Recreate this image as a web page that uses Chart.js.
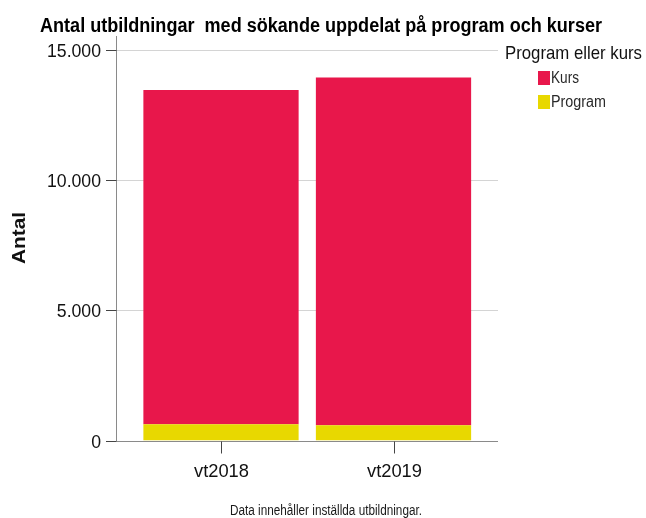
<!DOCTYPE html>
<html>
<head>
<meta charset="utf-8">
<script src="https://cdn.jsdelivr.net/npm/chart.js@4/dist/chart.umd.min.js"></script>
<style>
  html, body { margin: 0; padding: 0; background: #fff; }
  #wrap { position: relative; width: 646px; height: 518px; }
</style>
</head>
<body>
<div id="wrap"><canvas id="chart" width="646" height="518"></canvas></div>
<script>
// data
const categories = ["vt2018", "vt2019"];
const kursValues = [12830, 13345];
const programValues = [620, 585];
const yTicks = [0, 5000, 10000, 15000];
const yTickLabels = ["0", "5.000", "10.000", "15.000"];

const title = "Antal utbildningar  med sökande uppdelat på program och kurser";
const legendTitle = "Program eller kurs";
const footnote = "Data innehåller inställda utbildningar.";

const RED = "#e8174b";
const YELLOW = "#e8d800";
const FONT = "'Liberation Sans', Arial, sans-serif";

// draw text squeezed to a given width (the original uses a narrow font)
function squeezeText(ctx, text, x, y, width, align) {
  const w = ctx.measureText(text).width;
  const s = width / w;
  ctx.save();
  let x0 = x;
  if (align === "center") x0 = x - width / 2;
  else if (align === "right") x0 = x - width;
  ctx.translate(x0, y);
  ctx.scale(s, 1);
  ctx.textAlign = "left";
  ctx.fillText(text, 0, 0);
  ctx.restore();
}

const axisPlugin = {
  id: "spssAxes",
  beforeDatasetsDraw(chart) {
    const ctx = chart.ctx;
    const y = chart.scales.y;
    const axisLeft = 116.5;
    const axisRight = 498;
    ctx.save();
    // gridlines
    ctx.strokeStyle = "#d4d4d4";
    ctx.lineWidth = 1;
    yTicks.forEach(v => {
      if (v === 0) return;
      const py = Math.round(y.getPixelForValue(v)) + 0.5;
      ctx.beginPath();
      ctx.moveTo(axisLeft, py);
      ctx.lineTo(axisRight, py);
      ctx.stroke();
    });
    ctx.restore();
  },
  afterDatasetsDraw(chart) {
    const ctx = chart.ctx;
    const x = chart.scales.x;
    const y = chart.scales.y;
    const axisLeft = 116.5;
    const axisRight = 498;
    const zeroY = Math.round(y.getPixelForValue(0)) + 0.5;
    ctx.save();
    ctx.strokeStyle = "#8a8a8a";
    ctx.lineWidth = 1;
    // y axis line
    ctx.beginPath();
    ctx.moveTo(axisLeft, 36);
    ctx.lineTo(axisLeft, zeroY);
    ctx.stroke();
    // x axis line
    ctx.beginPath();
    ctx.moveTo(axisLeft, zeroY);
    ctx.lineTo(axisRight, zeroY);
    ctx.stroke();

    // y ticks + labels
    ctx.strokeStyle = "#444";
    ctx.fillStyle = "#111";
    ctx.font = "19px " + FONT;
    ctx.textBaseline = "middle";
    yTicks.forEach((v, i) => {
      const py = Math.round(y.getPixelForValue(v)) + 0.5;
      ctx.beginPath();
      ctx.moveTo(106, py);
      ctx.lineTo(axisLeft, py);
      ctx.stroke();
      const lbl = yTickLabels[i];
      squeezeText(ctx, lbl, 101, py + 1, 54 * ctx.measureText(lbl).width / ctx.measureText("15.000").width, "right");
    });

    // x ticks + labels
    categories.forEach((c, i) => {
      const px = Math.round(x.getPixelForValue(i)) + 0.5;
      ctx.beginPath();
      ctx.moveTo(px, zeroY);
      ctx.lineTo(px, zeroY + 12);
      ctx.stroke();
      squeezeText(ctx, c, px, 472, 55, "center");
    });

    // y axis title
    ctx.save();
    ctx.translate(20, 238);
    ctx.rotate(-Math.PI / 2);
    ctx.font = "bold 19px " + FONT;
    ctx.textBaseline = "middle";
    squeezeText(ctx, "Antal", 0, 0, 52, "center");
    ctx.restore();

    // title
    ctx.fillStyle = "#000";
    ctx.font = "bold 20px " + FONT;
    ctx.textBaseline = "middle";
    squeezeText(ctx, title, 40, 26, 562, "left");

    // legend
    ctx.fillStyle = "#111";
    ctx.font = "19px " + FONT;
    squeezeText(ctx, legendTitle, 505, 54, 137, "left");
    ctx.font = "16px " + FONT;
    ctx.fillStyle = RED;
    ctx.fillRect(538, 71, 12, 14);
    ctx.fillStyle = YELLOW;
    ctx.fillRect(538, 95, 12, 14);
    ctx.fillStyle = "#2a2a2a";
    squeezeText(ctx, "Kurs", 551, 79, 28, "left");
    squeezeText(ctx, "Program", 551, 103, 55, "left");

    // footnote
    ctx.font = "14px " + FONT;
    ctx.fillStyle = "#1a1a1a";
    squeezeText(ctx, footnote, 326, 511, 192, "center");
    ctx.restore();
  }
};

new Chart(document.getElementById("chart"), {
  type: "bar",
  data: {
    labels: categories,
    datasets: [
      {
        label: "Program",
        data: programValues,
        backgroundColor: YELLOW,
        borderWidth: 0,
        categoryPercentage: 1.0,
        barPercentage: 0.9
      },
      {
        label: "Kurs",
        data: kursValues,
        backgroundColor: RED,
        borderWidth: 0,
        categoryPercentage: 1.0,
        barPercentage: 0.9
      }
    ]
  },
  options: {
    responsive: false,
    devicePixelRatio: 1,
    animation: false,
    layout: {
      padding: { left: 134.75, right: 166.25, top: 49.5, bottom: 77.5 }
    },
    plugins: {
      legend: { display: false },
      title: { display: false },
      tooltip: { enabled: false }
    },
    scales: {
      x: { stacked: true, display: false },
      y: { stacked: true, display: false, min: 0, max: 15000 }
    }
  },
  plugins: [axisPlugin]
});
</script>
</body>
</html>
